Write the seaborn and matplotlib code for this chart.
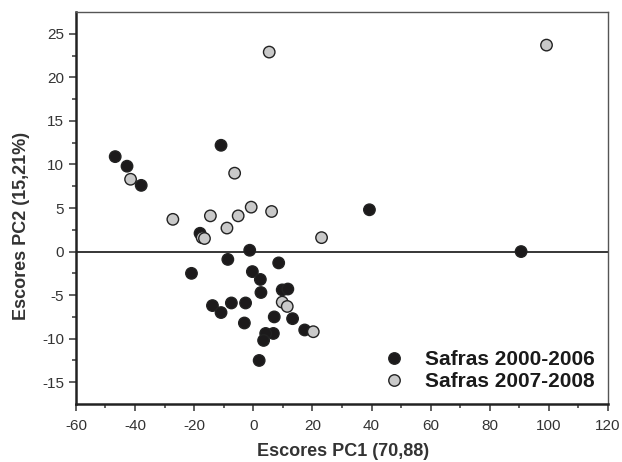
import numpy as np
import pandas as pd
import matplotlib
matplotlib.use("Agg")
import matplotlib.pyplot as plt
import seaborn as sns

# Scores for harvests 2000-2006
pc1_a = [-46.7, -42.7, -37.9, -10.9, 39.3, 90.6, -18.0, -1.2, -8.6, -20.9,
         8.6, -0.3, 2.4, 2.6, 9.8, 11.7, -13.8, -7.4, -2.6, -10.9,
         -3.0, 7.1, 13.3, 17.4, 6.8, 4.2, 3.5, 2.0]
pc2_a = [10.9, 9.8, 7.6, 12.2, 4.8, 0.0, 2.1, 0.15, -0.9, -2.5,
         -1.3, -2.3, -3.2, -4.7, -4.4, -4.3, -6.2, -5.9, -5.9, -7.0,
         -8.2, -7.5, -7.7, -9.0, -9.4, -9.4, -10.2, -12.5]

# Scores for harvests 2007-2008
pc1_b = [5.4, 99.2, -41.5, -6.3, -27.2, -14.5, -5.1, -0.7, 6.2, -8.9,
         -17.3, -16.5, 23.1, 9.8, 11.5, 20.3]
pc2_b = [22.9, 23.7, 8.3, 9.0, 3.7, 4.1, 4.1, 5.1, 4.6, 2.7,
         1.6, 1.5, 1.6, -5.8, -6.3, -9.2]

labels = ["Safras 2000-2006", "Safras 2007-2008"]

df = pd.DataFrame({
    "PC1": pc1_a + pc1_b,
    "PC2": pc2_a + pc2_b,
    "Safra": [labels[0]] * len(pc1_a) + [labels[1]] * len(pc1_b),
})

sns.set_style("ticks")
plt.rcParams["font.family"] = ["Liberation Sans", "DejaVu Sans"]
plt.rcParams["axes.unicode_minus"] = False

fig = plt.figure(figsize=(6.22, 4.62), dpi=100)
ax = fig.add_axes([0.122, 0.1255, 0.8555, 0.8485])

ax.axhline(0, color="black", lw=1.1, zorder=1)
sns.scatterplot(data=df, x="PC1", y="PC2", hue="Safra",
                palette={labels[0]: "#1c1a1b", labels[1]: "#c9c9c9"},
                s=68, edgecolor="#222222", linewidth=1.0, ax=ax, zorder=3)

ax.set_xlim(-60, 120)
ax.set_ylim(-17.5, 27.5)
ax.set_xticks(np.arange(-60, 121, 20))
ax.set_yticks(np.arange(-15, 26, 5))
ax.set_xticks(np.arange(-50, 120, 20), minor=True)
ax.set_yticks(np.arange(-12.5, 27.5, 5), minor=True)
ax.tick_params(which="major", length=5, width=1.2, color="#444444",
               labelsize=11, labelcolor="#333333", direction="out")
ax.tick_params(axis="x", which="major", pad=6)
ax.tick_params(which="minor", length=3, width=1.2, color="#444444", direction="out")

for side in ["left", "bottom"]:
    ax.spines[side].set_linewidth(1.8)
    ax.spines[side].set_color("#222222")
for side in ["top", "right"]:
    ax.spines[side].set_linewidth(1.0)
    ax.spines[side].set_color("#555555")

ax.set_xlabel("Escores PC1 (70,88)", fontsize=13, fontweight="bold", color="#333333")
ax.set_ylabel("Escores PC2 (15,21%)", fontsize=13, fontweight="bold", color="#333333")
ax.xaxis.set_label_coords(0.503, -0.1)
ax.yaxis.set_label_coords(-0.086, 0.454)

leg = ax.legend(loc="lower right", frameon=False, handletextpad=0.5,
                labelspacing=0.15, bbox_to_anchor=(1.01, -0.015),
                prop={"size": 15, "weight": "bold"})
for t in leg.get_texts():
    t.set_color("#1a1a1a")

plt.savefig("out.png", dpi=100)
